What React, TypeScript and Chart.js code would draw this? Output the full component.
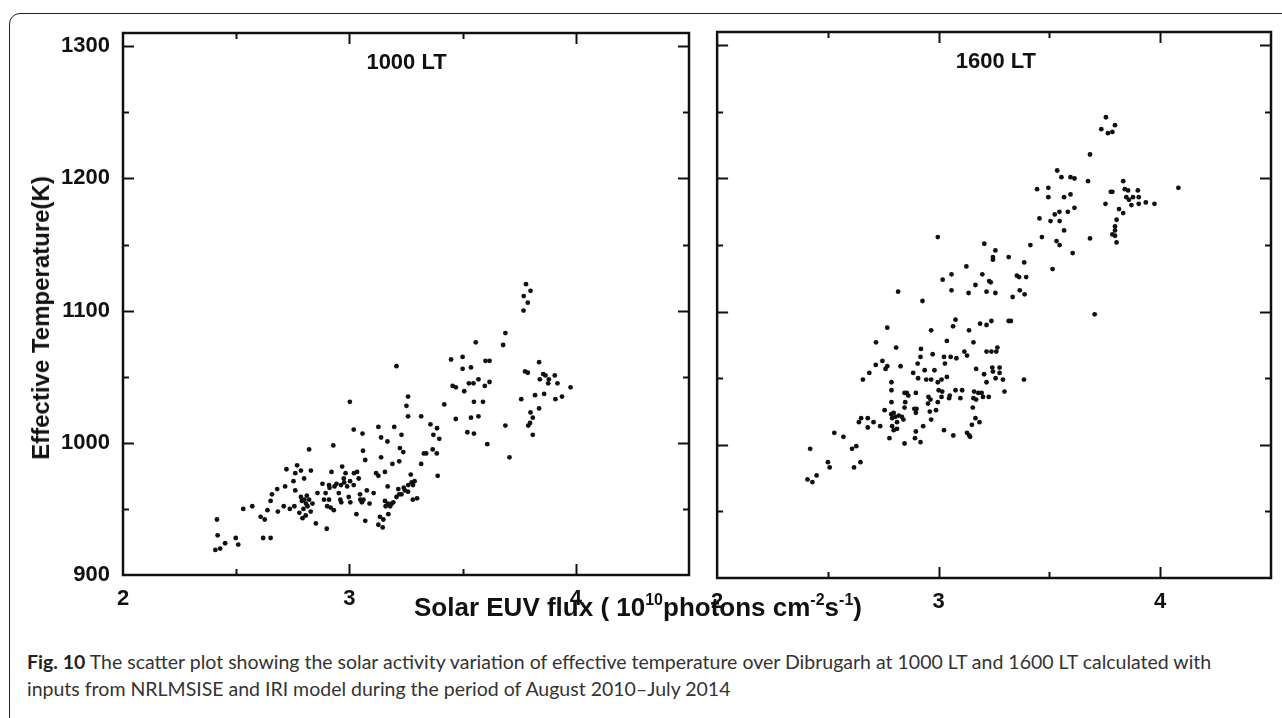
import React, { useEffect, useRef } from "react";
import { Chart, registerables } from "chart.js";

Chart.register(...registerables);

// ---- axis settings ----
const X_MIN = 2;
const X_MAX = 4.5;
const Y_MIN = 900;
const Y_MAX = 1310;
const xTickLabels = [2, 3, 4];
const yTickLabels = [900, 1000, 1100, 1200, 1300];

const panelTitles = ["1000 LT", "1600 LT"];
const yAxisTitle = "Effective Temperature(K)";

// ---- 1000 LT panel ----
const lt1000X = [
  2.415, 2.418, 2.408, 2.429, 2.451, 2.498, 2.509, 2.531, 2.571, 2.608,
  2.626, 2.619, 2.652, 2.638, 2.652, 2.658, 2.681, 2.716, 2.722, 2.684,
  2.71, 2.737, 2.753, 2.761, 2.769, 2.786, 2.8, 2.822, 2.83, 2.761,
  2.757, 2.779, 2.786, 2.79, 2.808, 2.797, 2.815, 2.822, 2.812, 2.837,
  2.852, 2.859, 2.881, 2.895, 2.9, 2.91, 2.917, 2.921, 2.929, 2.943,
  2.953, 2.964, 2.968, 2.975, 2.983, 2.99, 2.997,
  2.91, 2.912, 2.934, 2.963, 2.977, 2.801, 2.829, 2.807, 2.793, 2.888,
  2.902, 2.931, 2.96,
  3.788, 3.769, 3.689, 3.679, 3.558, 3.5, 3.449, 3.208, 3.5, 3.537,
  3.601, 3.619, 3.456, 3.47, 3.507, 3.528, 3.548, 3.57, 3.598, 3.619,
  3.419, 3.55, 3.59, 3.47, 3.537, 3.57, 3.521, 3.55, 3.609, 3.689,
  3.707, 3.776, 3.788, 3.838, 3.841, 3.856, 3.866, 3.881, 3.878, 3.907,
  3.919, 3.977, 3.939, 3.91, 3.86, 3.838, 3.82, 3.759, 3.8, 3.81,
  3.798, 3.79, 3.81, 3.317, 3.358, 3.387, 3.371, 3.397, 3.329, 3.339,
  3.368, 3.386, 3.317, 3.39, 3.259, 3.252, 3.259, 3.223, 3.23, 3.238,
  3.198, 3.128, 3.14, 3.168, 3.058, 3.019, 3.06, 3.07, 3.002, 3.14,
  3.19, 3.22, 3.271, 3.288, 3.281, 3.299, 3.259, 3.245, 3.23, 3.216,
  3.208, 3.194, 3.157, 3.118, 3.128, 3.169, 3.187, 3.18, 3.157, 3.16,
  3.135, 3.15, 3.128, 3.147, 3.172, 3.07, 3.031, 3.107, 3.089, 3.077,
  3.041, 3.034, 3.048, 3.055, 3.019, 3.004,
  3.003, 3.02, 3.047, 3.062, 3.22, 3.24, 3.26, 3.275, 3.28, 3.17,
  3.78, 3.8, 3.77,
];
const lt1000Y = [
  942, 930, 919, 920, 924, 928, 923, 950, 952, 944,
  942, 928, 928, 949, 956, 961, 965, 967, 980, 948,
  952, 950, 971, 977, 983, 979, 973, 995, 979, 964,
  952, 947, 959, 956, 954, 950, 952, 957, 960, 954,
  939, 962, 969, 962, 935, 957, 951, 978, 998, 969,
  962, 955, 982, 973, 977, 967, 959,
  968, 966, 967, 968, 970, 957, 948, 945, 943, 957,
  952, 949, 957,
  1106, 1100, 1083, 1074, 1076, 1065, 1063, 1058, 1056, 1057,
  1062, 1062, 1043, 1042, 1039, 1045, 1045, 1048, 1043, 1046,
  1029, 1031, 1031, 1018, 1019, 1020, 1008, 1007, 999, 1013,
  989, 1054, 1053, 1061, 1048, 1052, 1051, 1048, 1045, 1051,
  1045, 1042, 1035, 1033, 1037, 1026, 1036, 1033, 1023, 1019,
  1015, 1013, 1006, 1020, 1014, 1011, 1006, 1003, 992, 992,
  995, 992, 984, 975, 1035, 1028, 1020, 996, 1006, 993,
  1012, 1012, 1004, 1001, 1007, 1010, 994, 987, 1031, 989,
  984, 986, 976, 971, 968, 958, 963, 964, 961, 965,
  959, 955, 978, 977, 975, 967, 954, 952, 956, 952,
  944, 942, 938, 936, 946, 941, 946, 962, 954, 964,
  973, 978, 957, 955, 968, 955,
  971, 977, 961, 957, 961, 966, 968, 970, 957, 954,
  1120, 1115, 1111,
];

// ---- 1600 LT panel ----
const lt1600X = [
  2.408, 2.43, 2.449, 2.42, 2.5, 2.508, 2.529, 2.57, 2.609, 2.628,
  2.618, 2.647, 2.658, 2.64, 2.65, 2.68, 2.68, 2.706, 2.736, 2.687,
  2.716, 2.746, 2.76, 2.768, 2.828, 2.756, 2.778, 2.787, 2.787, 2.787,
  2.786, 2.79, 2.797, 2.805, 2.812, 2.82, 2.79, 2.797, 2.812, 2.834,
  2.841, 2.846, 2.846, 2.849, 2.846, 2.856, 2.863, 2.885, 2.897, 2.89,
  2.9, 2.897, 2.897, 2.893, 2.918, 2.905, 2.907, 2.918, 2.93, 2.937,
  2.944, 2.952, 2.954, 2.963, 2.96, 2.966, 2.966, 2.981, 2.973, 2.988,
  2.996, 2.996, 3.0, 3.013, 3.013, 3.016, 3.024, 3.028, 3.037, 3.047,
  3.054, 3.08, 3.05, 3.024, 3.066, 3.076, 3.098, 3.106, 3.128, 3.116,
  3.128, 3.142, 3.138, 3.15, 3.154, 3.157, 3.16, 3.169, 3.166, 3.179,
  3.184, 3.194, 3.2, 3.169, 3.205, 3.216, 3.226, 3.242, 3.245, 3.257,
  3.275, 3.275, 3.29, 3.297, 3.385, 3.216, 3.238, 3.26,
  3.755, 3.734, 3.764, 3.784, 3.796, 3.683, 3.535, 3.554, 3.595, 3.613,
  3.674, 3.444, 3.495, 3.495, 3.566, 3.595, 3.524, 3.545, 3.583, 3.613,
  3.455, 3.505, 3.546, 3.566, 3.466, 3.532, 3.546, 3.605, 3.514, 3.683,
  3.414, 3.704, 3.833, 3.777, 3.784, 3.84, 3.855, 3.847, 3.859, 3.87,
  3.877, 3.899, 3.903, 3.753, 3.814, 3.833, 3.803, 3.796, 3.796, 3.784,
  3.796, 3.803, 2.996, 3.206, 3.256, 3.245, 3.245, 3.316, 3.386, 3.125,
  3.058, 3.018, 3.197, 3.228, 3.235, 3.166, 3.353, 3.363, 3.395, 3.058,
  3.135, 3.216, 3.256, 3.366, 3.388, 3.334, 2.817, 2.927, 2.768, 3.076,
  3.065, 2.966, 3.137, 3.187, 3.216, 3.238, 3.316, 3.326, 3.037, 3.157,
  2.808, 2.92, 3.265, 2.717,
  3.903, 3.935, 3.974, 4.082,
];
const lt1600Y = [
  974, 972, 977, 997, 987, 983, 1009, 1006, 997, 999,
  983, 987, 1049, 1017, 1020, 1013, 1020, 1017, 1014, 1054,
  1060, 1063, 1057, 1059, 1059, 1026, 1005, 1047, 1041, 1032,
  1023, 1020, 1024, 1021, 1017, 1022, 1014, 1011, 1012, 1021,
  1019, 1001, 1039, 1032, 1028, 1039, 1037, 1054, 1039, 1027,
  1027, 1024, 1010, 1005, 1002, 1061, 1050, 1066, 1014, 1056,
  1049, 1031, 1036, 1034, 1025, 1019, 1049, 1056, 1068, 1026,
  1047, 1032, 1041, 1049, 1036, 1040, 1066, 1061, 1051, 1035,
  1066, 1065, 1037, 1011, 1007, 1041, 1035, 1041, 1067, 1070,
  1009, 1006, 1007, 1015, 1028, 1035, 1040, 1034, 1020, 1039,
  1017, 1039, 1036, 1057, 1053, 1047, 1036, 1058, 1055, 1050,
  1058, 1054, 1049, 1040, 1049, 1070, 1070, 1070,
  1246, 1237, 1234, 1235, 1240, 1218, 1206, 1201, 1201, 1200,
  1198, 1192, 1193, 1186, 1186, 1188, 1173, 1175, 1175, 1178,
  1170, 1168, 1168, 1161, 1156, 1153, 1150, 1144, 1132, 1155,
  1150, 1098, 1198, 1190, 1190, 1192, 1191, 1186, 1184, 1180,
  1186, 1191, 1181, 1181, 1177, 1174, 1169, 1164, 1161, 1158,
  1157, 1152, 1156, 1151, 1146, 1141, 1139, 1141, 1137, 1134,
  1128, 1124, 1128, 1123, 1122, 1120, 1127, 1126, 1126, 1116,
  1114, 1115, 1114, 1116, 1113, 1111, 1115, 1108, 1088, 1094,
  1089, 1086, 1086, 1091, 1090, 1093, 1093, 1093, 1078, 1077,
  1073, 1072, 1073, 1077,
  1186, 1182, 1181, 1193,
];

const INK = "#111111";
const AXIS_FONT = '"Liberation Sans", Arial, Helvetica, sans-serif';

const framePlugin = {
  id: "frame",
  afterDraw(chart: any, _args: any, opts: any) {
    const { ctx, chartArea: a, scales } = chart;
    const xs = scales.x;
    const ys = scales.y;
    ctx.save();
    ctx.strokeStyle = INK;
    ctx.lineCap = "butt";
    ctx.lineWidth = 2;
    const seg = (x1: number, y1: number, x2: number, y2: number) => {
      ctx.beginPath();
      ctx.moveTo(x1, y1);
      ctx.lineTo(x2, y2);
      ctx.stroke();
    };
    for (const t of xs.ticks) {
      const v = t.value;
      if (v <= X_MIN + 1e-6 || v >= X_MAX - 1e-6) continue;
      if (Math.abs(v * 2 - Math.round(v * 2)) > 1e-6) continue;
      const major = Math.abs(v - Math.round(v)) < 1e-6;
      const len = major ? 11 : 6;
      const px = Math.round(xs.getPixelForValue(v)) + 0.5;
      seg(px, a.bottom, px, a.bottom - len);
      seg(px, a.top, px, a.top + len);
    }
    for (const t of ys.ticks) {
      const v = t.value;
      if (v <= Y_MIN + 1e-6 || v > 1300 + 1e-6) continue;
      if (Math.abs(v % 50) > 1e-6) continue;
      const major = Math.abs(v % 100) < 1e-6;
      const len = major ? 11 : 6;
      const py = Math.round(ys.getPixelForValue(v)) + 0.5;
      seg(a.left, py, a.left + len, py);
      seg(a.right, py, a.right - len, py);
    }
    ctx.lineWidth = 2.5;
    ctx.strokeRect(a.left, a.top, a.right - a.left, a.bottom - a.top);
    if (opts && opts.title) {
      ctx.fillStyle = INK;
      ctx.font = `bold 22px ${AXIS_FONT}`;
      ctx.textAlign = "left";
      ctx.textBaseline = "alphabetic";
      ctx.fillText(opts.title, xs.getPixelForValue(3) + 17, a.top + 36);
    }
    ctx.restore();
  },
};

function makeChart(
  canvas: HTMLCanvasElement,
  xsArr: number[],
  ysArr: number[],
  title: string,
  showY: boolean,
  yAxisWidth: number,
  padRight: number,
  padTop: number,
  xAxisHeight: number
) {
  const points = xsArr.map((x, i) => ({ x, y: ysArr[i] }));
  return new Chart(canvas, {
    type: "scatter",
    data: {
      datasets: [
        {
          data: points,
          pointRadius: 2.4,
          pointBackgroundColor: INK,
          pointBorderWidth: 0,
          pointBorderColor: INK,
          showLine: false,
        },
      ],
    },
    options: {
      responsive: false,
      animation: false,
      devicePixelRatio: 1,
      events: [],
      layout: { padding: { top: padTop, right: padRight, left: 0, bottom: 0 } },
      plugins: {
        legend: { display: false },
        tooltip: { enabled: false },
        title: { display: false },
        frame: { title },
      } as any,
      scales: {
        x: {
          type: "linear",
          min: X_MIN,
          max: X_MAX,
          grid: { display: false, drawTicks: false },
          border: { display: false },
          ticks: {
            stepSize: 0.5,
            includeBounds: false,
            autoSkip: false,
            maxRotation: 0,
            padding: 11,
            color: INK,
            font: { family: AXIS_FONT, size: 22, weight: "bold" },
            callback: (v: any) => (xTickLabels.includes(Number(v)) ? String(v) : ""),
          },
          afterFit: (s: any) => {
            s.height = xAxisHeight;
          },
        },
        y: {
          type: "linear",
          min: Y_MIN,
          max: Y_MAX,
          grid: { display: false, drawTicks: false },
          border: { display: false },
          ticks: {
            display: showY,
            stepSize: 50,
            includeBounds: false,
            autoSkip: false,
            padding: 13,
            color: INK,
            font: { family: AXIS_FONT, size: 22, weight: "bold" },
            callback: (v: any) => (yTickLabels.includes(Number(v)) ? String(v) : ""),
          },
          afterFit: (s: any) => {
            s.width = yAxisWidth;
          },
        },
      },
    } as any,
    plugins: [framePlugin as any],
  });
}

export default function App() {
  const leftRef = useRef<HTMLCanvasElement>(null);
  const rightRef = useRef<HTMLCanvasElement>(null);

  useEffect(() => {
    const c1 = makeChart(leftRef.current!, lt1000X, lt1000Y, panelTitles[0], true, 123, 5, 33, 65);
    const c2 = makeChart(rightRef.current!, lt1600X, lt1600Y, panelTitles[1], false, 7, 7, 32, 62);
    return () => {
      c1.destroy();
      c2.destroy();
    };
  }, []);

  const sup: React.CSSProperties = { fontSize: 16, verticalAlign: 0, position: "relative", top: -11 };

  return (
    <div
      style={{
        position: "fixed",
        left: 0,
        top: 0,
        width: 1282,
        height: 718,
        overflow: "hidden",
        background: "#fff",
      }}
    >
      <div
        style={{
          position: "absolute",
          left: 9,
          top: 13,
          width: 1400,
          height: 800,
          border: "1.5px solid #222",
          borderRadius: 11,
          boxSizing: "border-box",
        }}
      />
      <canvas
        ref={leftRef}
        width={700}
        height={640}
        style={{ position: "absolute", left: 0, top: 0, width: 700, height: 640 }}
      />
      <canvas
        ref={rightRef}
        width={582}
        height={640}
        style={{ position: "absolute", left: 700, top: 0, width: 582, height: 640 }}
      />
      <div
        style={{
          position: "absolute",
          left: 41,
          top: 318,
          transform: "translate(-50%, -50%) rotate(-90deg)",
          whiteSpace: "nowrap",
          font: `bold 24px ${AXIS_FONT}`,
          color: INK,
        }}
      >
        {yAxisTitle}
      </div>
      <div
        style={{
          position: "absolute",
          left: 638,
          top: 591,
          transform: "translateX(-50%)",
          whiteSpace: "nowrap",
          font: `bold 26px ${AXIS_FONT}`,
          color: INK,
          lineHeight: "32px",
        }}
      >
        Solar EUV flux ( 10<span style={sup}>10</span>photons cm<span style={sup}>-2</span>s
        <span style={sup}>-1</span>)
      </div>
      <div
        style={{
          position: "absolute",
          left: 27,
          top: 648,
          width: 1250,
          font: '19.5px Lato, "Open Sans", sans-serif',
          color: "#333",
          lineHeight: "27px",
        }}
      >
        <span style={{ fontWeight: "bold", color: "#222" }}>Fig. 10</span> The scatter plot showing the
        solar activity variation of effective temperature over Dibrugarh at 1000 LT and 1600 LT calculated
        with
        <br />
        inputs from NRLMSISE and IRI model during the period of August 2010–July 2014
      </div>
    </div>
  );
}
